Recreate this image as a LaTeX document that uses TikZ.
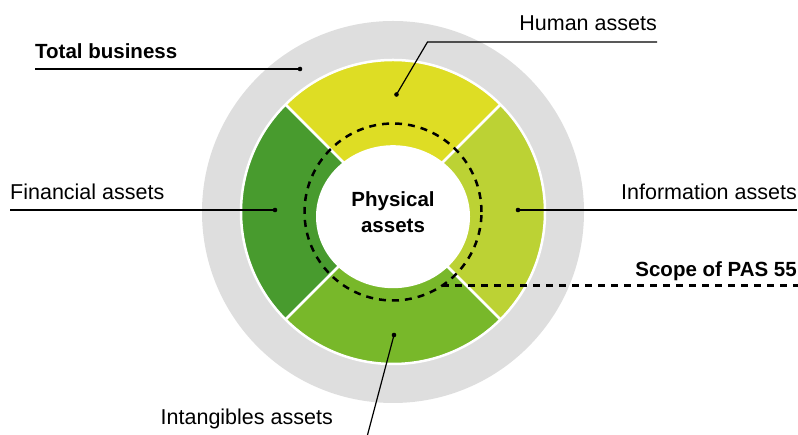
\documentclass[tikz,border=0pt]{standalone}
\usepackage{fontspec}
\setmainfont{Liberation Sans}
\usepackage{tikz}
\usetikzlibrary{calc}

\definecolor{bizgray}{RGB}{222,222,222}
\definecolor{humanyellow}{RGB}{222,221,36}
\definecolor{infogreen}{RGB}{188,210,52}
\definecolor{intggreen}{RGB}{120,184,42}
\definecolor{fingreen}{RGB}{72,155,46}

\tikzset{
  lbl/.style={inner sep=0pt, font=\fontsize{21.5}{26}\selectfont},
  lblbold/.style={inner sep=0pt, font=\fontsize{20.5}{26}\selectfont\bfseries},
  leader/.style={line width=1.2pt},
  scopeline/.style={line width=2.5pt, dash pattern=on 7pt off 6pt},
  dot/.style={fill=black}
}

\begin{document}
\begin{tikzpicture}[x=1pt,y=1pt]
\useasboundingbox (0,0) rectangle (798,435);

\coordinate (c) at (393,223);
\fill[bizgray] (c) circle (191);

\fill[humanyellow] (c) -- ++(45:152) arc (45:135:152) -- cycle;
\fill[fingreen] (c) -- ++(135:152) arc (135:225:152) -- cycle;
\fill[intggreen] (c) -- ++(225:152) arc (225:315:152) -- cycle;
\fill[infogreen] (c) -- ++(-45:152) arc (-45:45:152) -- cycle;
\draw[white, line width=2.5pt] (c) circle (152);
\draw[white, line width=2.5pt] (c) -- ++(45:152) (c) -- ++(135:152)
  (c) -- ++(225:152) (c) -- ++(315:152);
\fill[white] (393,218.3) ellipse (77 and 71.5);

\draw[scopeline] (c) circle (88.5);
\coordinate (scope0) at ($(c)+(-56:88.5)$);
\coordinate (scope1) at (798,150.5);
\draw[scopeline] (scope0) -- (scope0 -| scope1);

\node[lblbold, align=center] (phys) at (393,223) {Physical\\assets};

\coordinate (tbdot) at (300,366);
\coordinate (humdot) at (396.5,340.5);
\coordinate (humbend) at (427.5,393);
\coordinate (findot) at (275,225);
\coordinate (infodot) at (518,225);
\coordinate (intgdot) at (394,100);
\coordinate (intgend) at (367.5,0);

\node[lblbold, anchor=base west] (total) at (35,376) {Total business};
\node[lbl, anchor=base east] (human) at (657,404) {Human assets};
\node[lbl, anchor=base west] (fin) at (10,235) {Financial assets};
\node[lbl, anchor=base east] (info) at (797,235) {Information assets};
\node[lblbold, anchor=base east] (scope) at (797,158) {Scope of PAS 55};
\node[lbl, anchor=base west] (intg) at (160.5,10) {Intangibles assets};

\draw[leader] (total.base west |- tbdot) -- (tbdot);
\draw[leader] (humdot) -- (humbend) -- (humbend -| human.east);
\draw[leader] (fin.base west |- findot) -- (findot);
\draw[leader] (infodot) -- (infodot -| info.east);
\draw[leader] (intgdot) -- (intgend);

\foreach \d in {tbdot,humdot,findot,infodot,intgdot}
  \fill[dot] (\d) circle (2.3);

\end{tikzpicture}
\end{document}
